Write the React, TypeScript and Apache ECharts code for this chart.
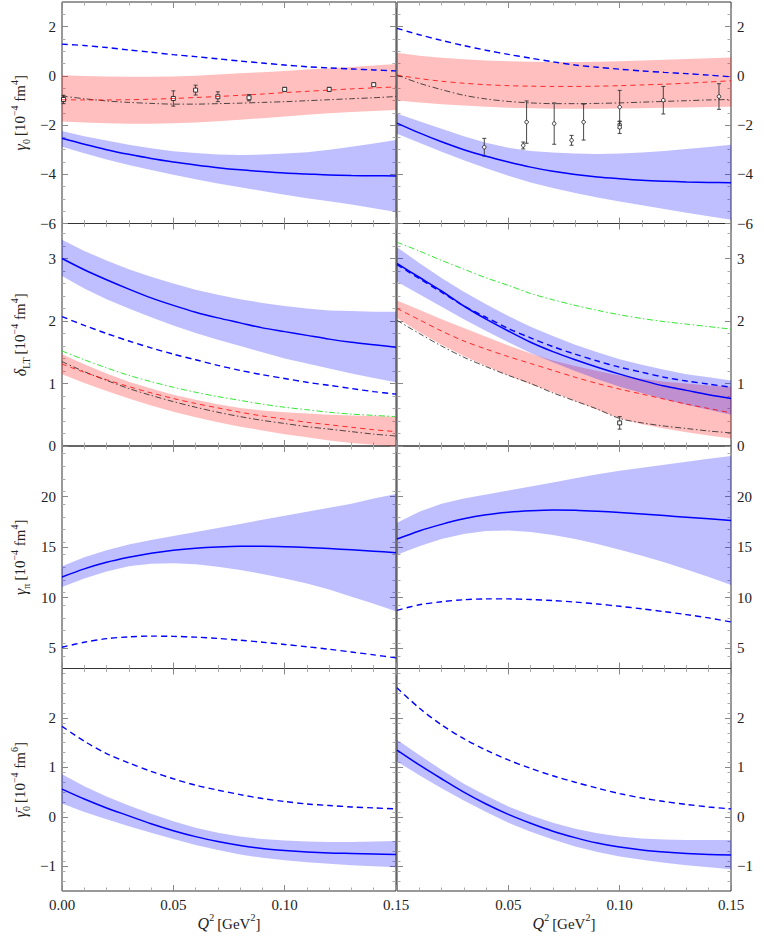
import React, { useEffect, useRef } from "react";
import * as echarts from "echarts";

// ---------------- data ----------------
const Q2 = [0, 0.01, 0.02, 0.03, 0.04, 0.05, 0.06, 0.07, 0.08, 0.09, 0.1, 0.11, 0.12, 0.13, 0.14, 0.15];

// row 1, left: gamma_0
const g0pBlue = [-2.54, -2.78, -3.0, -3.19, -3.36, -3.5, -3.62, -3.73, -3.82, -3.89, -3.95, -3.99, -4.03, -4.05, -4.06, -4.07];
const g0pBlueHi = [-2.24, -2.45, -2.63, -2.8, -2.94, -3.06, -3.14, -3.2, -3.22, -3.2, -3.16, -3.1, -3.0, -2.88, -2.75, -2.61];
const g0pBlueLo = [-2.88, -3.15, -3.4, -3.62, -3.83, -4.02, -4.2, -4.37, -4.53, -4.68, -4.83, -4.97, -5.1, -5.23, -5.38, -5.53];
const g0pBlueDash = [1.29, 1.23, 1.15, 1.05, 0.96, 0.86, 0.78, 0.69, 0.6, 0.52, 0.44, 0.37, 0.32, 0.28, 0.24, 0.2];
const g0pRed = [-0.97, -0.98, -0.98, -0.97, -0.95, -0.92, -0.88, -0.84, -0.79, -0.74, -0.68, -0.63, -0.58, -0.53, -0.49, -0.45];
const g0pRedHi = [0.02, -0.01, -0.03, -0.04, -0.04, -0.03, 0.0, 0.05, 0.1, 0.15, 0.2, 0.26, 0.31, 0.36, 0.42, 0.48];
const g0pRedLo = [-1.86, -1.9, -1.93, -1.95, -1.95, -1.93, -1.9, -1.85, -1.78, -1.72, -1.65, -1.58, -1.52, -1.47, -1.43, -1.39];
const g0pBlack = [-0.82, -0.93, -1.02, -1.08, -1.12, -1.15, -1.15, -1.13, -1.11, -1.08, -1.05, -1.01, -0.97, -0.93, -0.89, -0.84];
const g0pData = [
  [0.0007, -0.96, 0.17], [0.05, -0.92, 0.31], [0.06, -0.58, 0.2], [0.07, -0.85, 0.2],
  [0.084, -0.89, 0.13], [0.1, -0.55, 0.08], [0.12, -0.55, 0.08], [0.14, -0.36, 0.07],
];

// row 1, right
const g0nBlue = [-1.92, -2.32, -2.68, -3.0, -3.27, -3.5, -3.71, -3.88, -4.01, -4.11, -4.18, -4.24, -4.28, -4.31, -4.33, -4.34];
const g0nBlueHi = [-1.53, -1.85, -2.15, -2.45, -2.72, -2.92, -3.05, -3.12, -3.16, -3.18, -3.16, -3.12, -3.05, -2.97, -2.89, -2.8];
const g0nBlueLo = [-2.35, -2.72, -3.08, -3.43, -3.76, -4.06, -4.33, -4.56, -4.76, -4.94, -5.11, -5.26, -5.41, -5.56, -5.71, -5.85];
const g0nBlueDash = [1.93, 1.67, 1.44, 1.23, 1.04, 0.87, 0.72, 0.57, 0.44, 0.35, 0.27, 0.2, 0.14, 0.09, 0.03, -0.04];
const g0nRed = [0.03, -0.11, -0.22, -0.3, -0.36, -0.4, -0.42, -0.43, -0.43, -0.42, -0.4, -0.37, -0.34, -0.3, -0.25, -0.2];
const g0nRedHi = [0.94, 0.82, 0.73, 0.67, 0.62, 0.59, 0.57, 0.56, 0.56, 0.57, 0.59, 0.62, 0.65, 0.68, 0.71, 0.74];
const g0nRedLo = [-1.0, -1.08, -1.15, -1.21, -1.26, -1.3, -1.32, -1.34, -1.34, -1.34, -1.33, -1.32, -1.3, -1.29, -1.27, -1.26];
const g0nBlack = [0.03, -0.3, -0.56, -0.79, -0.94, -1.04, -1.1, -1.13, -1.13, -1.12, -1.1, -1.07, -1.04, -1.01, -0.98, -0.96];
const g0nData = [
  [0.0392, -2.9, 0.36], [0.0567, -2.83, 0.14], [0.0582, -1.88, 0.86], [0.0706, -1.94, 0.84],
  [0.0784, -2.62, 0.2], [0.0838, -1.88, 0.73], [0.1, -1.27, 0.68], [0.1, -2.0, 0.14],
  [0.1, -2.09, 0.25], [0.1196, -0.99, 0.56], [0.1446, -0.84, 0.52],
];

// row 2, left: delta_LT
const dpBlue = [3.0, 2.82, 2.66, 2.51, 2.37, 2.25, 2.14, 2.05, 1.97, 1.89, 1.83, 1.77, 1.71, 1.66, 1.62, 1.58];
const dpBlueHi = [3.3, 3.12, 2.97, 2.83, 2.71, 2.6, 2.5, 2.42, 2.35, 2.29, 2.24, 2.2, 2.17, 2.16, 2.15, 2.15];
const dpBlueLo = [2.72, 2.52, 2.35, 2.2, 2.06, 1.93, 1.81, 1.7, 1.6, 1.5, 1.4, 1.32, 1.24, 1.16, 1.09, 1.02];
const dpBlueDash = [2.07, 1.93, 1.8, 1.68, 1.57, 1.47, 1.38, 1.29, 1.21, 1.14, 1.08, 1.02, 0.97, 0.92, 0.87, 0.83];
const dpGreen = [1.52, 1.38, 1.25, 1.13, 1.03, 0.94, 0.86, 0.79, 0.73, 0.67, 0.62, 0.58, 0.54, 0.51, 0.49, 0.47];
const dpRed = [1.31, 1.18, 1.06, 0.95, 0.85, 0.76, 0.68, 0.61, 0.54, 0.48, 0.43, 0.38, 0.34, 0.3, 0.26, 0.23];
const dpRedHi = [1.47, 1.31, 1.16, 1.03, 0.92, 0.82, 0.74, 0.67, 0.61, 0.57, 0.54, 0.52, 0.5, 0.49, 0.48, 0.47];
const dpRedLo = [1.15, 1.01, 0.88, 0.76, 0.65, 0.55, 0.46, 0.38, 0.31, 0.25, 0.19, 0.14, 0.09, 0.05, 0.02, 0.0];
const dpBlack = [1.35, 1.19, 1.05, 0.92, 0.81, 0.71, 0.62, 0.54, 0.47, 0.41, 0.36, 0.31, 0.27, 0.23, 0.19, 0.16];

// row 2, right
const dnBlue = [2.92, 2.7, 2.48, 2.24, 2.03, 1.84, 1.66, 1.51, 1.38, 1.26, 1.15, 1.05, 0.96, 0.89, 0.82, 0.76];
const dnBlueHi = [3.18, 2.93, 2.69, 2.47, 2.27, 2.08, 1.91, 1.76, 1.62, 1.5, 1.39, 1.3, 1.22, 1.15, 1.1, 1.05];
const dnBlueLo = [2.63, 2.43, 2.23, 2.03, 1.84, 1.66, 1.49, 1.34, 1.2, 1.07, 0.95, 0.85, 0.75, 0.66, 0.58, 0.5];
const dnBlueDash = [2.9, 2.68, 2.46, 2.24, 2.06, 1.88, 1.73, 1.59, 1.47, 1.36, 1.26, 1.18, 1.1, 1.04, 0.99, 0.94];
const dnGreen = [3.26, 3.12, 2.97, 2.83, 2.69, 2.57, 2.44, 2.34, 2.25, 2.17, 2.1, 2.04, 1.99, 1.95, 1.91, 1.87];
const dnRed = [2.2, 2.02, 1.84, 1.68, 1.55, 1.43, 1.32, 1.21, 1.1, 1.0, 0.91, 0.83, 0.75, 0.67, 0.6, 0.53];
const dnRedHi = [2.33, 2.18, 2.03, 1.89, 1.75, 1.61, 1.48, 1.37, 1.28, 1.2, 1.13, 1.08, 1.03, 1.0, 0.97, 0.95];
const dnRedLo = [2.05, 1.82, 1.62, 1.44, 1.28, 1.13, 0.99, 0.86, 0.72, 0.58, 0.44, 0.35, 0.28, 0.22, 0.17, 0.12];
const dnBlack = [2.01, 1.8, 1.6, 1.42, 1.27, 1.13, 1.0, 0.85, 0.72, 0.59, 0.44, 0.37, 0.32, 0.28, 0.24, 0.21];
const dnData = [[0.1, 0.37, 0.1]];

// row 3, left: gamma_pi
const gppBlue = [12.05, 12.85, 13.5, 14.0, 14.4, 14.7, 14.9, 15.02, 15.08, 15.08, 15.04, 14.96, 14.86, 14.74, 14.6, 14.45];
const gppBlueHi = [13.1, 14.0, 14.7, 15.25, 15.7, 16.1, 16.5, 16.9, 17.3, 17.7, 18.1, 18.5, 18.9, 19.3, 19.8, 20.25];
const gppBlueLo = [11.05, 11.9, 12.6, 13.1, 13.35, 13.4, 13.3, 13.05, 12.75, 12.35, 11.9, 11.4, 10.8, 10.1, 9.4, 8.65];
const gppBlueDash = [5.1, 5.6, 5.95, 6.13, 6.2, 6.18, 6.1, 5.97, 5.8, 5.6, 5.38, 5.15, 4.9, 4.63, 4.35, 4.05];

// row 3, right
const gpnBlue = [15.8, 16.6, 17.25, 17.8, 18.2, 18.45, 18.6, 18.68, 18.65, 18.55, 18.42, 18.28, 18.12, 17.96, 17.8, 17.63];
const gpnBlueHi = [17.4, 18.5, 19.3, 19.8, 20.2, 20.6, 21.0, 21.4, 21.8, 22.2, 22.55, 22.85, 23.15, 23.45, 23.75, 24.0];
const gpnBlueLo = [14.25, 15.1, 15.8, 16.3, 16.6, 16.65, 16.5, 16.2, 15.8, 15.3, 14.75, 14.15, 13.5, 12.8, 12.05, 11.25];
const gpnBlueDash = [8.75, 9.3, 9.6, 9.8, 9.88, 9.88, 9.82, 9.72, 9.57, 9.38, 9.15, 8.9, 8.62, 8.33, 8.0, 7.6];

// row 4, left: bar gamma_0
const gbpBlue = [0.56, 0.36, 0.18, 0.02, -0.14, -0.28, -0.4, -0.5, -0.58, -0.64, -0.68, -0.71, -0.73, -0.74, -0.75, -0.76];
const gbpBlueHi = [0.86, 0.62, 0.41, 0.23, 0.06, -0.09, -0.22, -0.32, -0.4, -0.45, -0.48, -0.5, -0.51, -0.51, -0.5, -0.49];
const gbpBlueLo = [0.27, 0.1, -0.05, -0.19, -0.32, -0.45, -0.57, -0.67, -0.76, -0.83, -0.88, -0.92, -0.95, -0.98, -1.0, -1.02];
const gbpBlueDash = [1.83, 1.53, 1.28, 1.09, 0.92, 0.77, 0.64, 0.54, 0.45, 0.37, 0.31, 0.26, 0.23, 0.2, 0.18, 0.16];

// row 4, right
const gbnBlue = [1.35, 1.05, 0.77, 0.5, 0.26, 0.05, -0.13, -0.29, -0.42, -0.53, -0.61, -0.67, -0.71, -0.74, -0.76, -0.77];
const gbnBlueHi = [1.56, 1.25, 0.95, 0.67, 0.43, 0.21, 0.03, -0.12, -0.24, -0.33, -0.4, -0.44, -0.46, -0.47, -0.47, -0.47];
const gbnBlueLo = [1.12, 0.84, 0.58, 0.33, 0.1, -0.12, -0.3, -0.46, -0.6, -0.71, -0.8, -0.87, -0.93, -0.98, -1.02, -1.06];
const gbnBlueDash = [2.61, 2.2, 1.86, 1.58, 1.35, 1.15, 0.98, 0.83, 0.7, 0.58, 0.47, 0.38, 0.31, 0.25, 0.2, 0.16];

// axes
const X_TICK_LABELS = ["0.00", "0.05", "0.10", "0.15"];
const Y_MIN = [-6, 0, 3, -1.5];
const Y_MAX = [3, 3.56, 25, 3];
const Y_MAJOR = [[-6, -4, -2, 0, 2], [0, 1, 2, 3], [5, 10, 15, 20], [-1, 0, 1, 2]];
const Y_MINOR_STEP = [0.5, 0.2, 1.25, 0.2];
const Y_NAMES = [
  "{g|γ}{sb|0} {n|[10}{sp|−4}{n| fm}{sp|4}{n|]}",
  "{g|δ}{sb|LT} {n|[10}{sp|−4}{n| fm}{sp|4}{n|]}",
  "{g|γ}{sb|π} {n|[10}{sp|−4}{n| fm}{sp|4}{n|]}",
  "{g|γ\u0304}{sb|0} {n|[10}{sp|−4}{n| fm}{sp|6}{n|]}",
];
const X_NAME = "{g|Q}{sp|2} {n|[GeV}{sp|2}{n|]}";

// ---------------- layout / style ----------------
const FONT = "Liberation Serif, serif";
const ROW_TOP = [2, 223.5, 446, 668.5];
const ROW_H = [221.5, 222.5, 222.5, 222.5];
const COL_LEFT = [62, 397];
const PANEL_W = 334;
const BLUE = "#0000ff";
const BLUE_BAND = "rgba(0,0,255,0.25)";
const RED_BAND = "rgba(255,0,0,0.25)";

const rich = {
  g: { fontFamily: FONT, fontSize: 16, fontStyle: "italic", lineHeight: 22, color: "#222" },
  n: { fontFamily: FONT, fontSize: 15, lineHeight: 22, color: "#222" },
  sb: { fontFamily: FONT, fontSize: 10, lineHeight: 11, verticalAlign: "bottom", color: "#222" },
  sp: { fontFamily: FONT, fontSize: 10, lineHeight: 11, verticalAlign: "top", color: "#222" },
};

function minorTicks(r: number): number[] {
  const out: number[] = [];
  const step = Y_MINOR_STEP[r];
  const n = Math.round((Y_MAX[r] - Y_MIN[r]) / step);
  for (let k = 0; k <= n; k++) {
    const v = Math.round((Y_MIN[r] + k * step) * 1000) / 1000;
    if (v > Y_MIN[r] && v < Y_MAX[r] && Y_MAJOR[r].indexOf(v) < 0) out.push(v);
  }
  return out;
}

const fmtMinus = (v: number) => String(v).replace("-", "\u2212");

function bandSeries(xi: number, yi: number, lo: number[], hi: number[], color: string) {
  return {
    type: "custom",
    coordinateSystem: "cartesian2d",
    xAxisIndex: xi,
    yAxisIndex: yi,
    silent: true,
    clip: true,
    data: [[Q2[0], lo[0]]],
    renderItem: (_p: any, api: any) => {
      const pts: number[][] = [];
      for (let i = 0; i < Q2.length; i++) pts.push(api.coord([Q2[i], hi[i]]));
      for (let i = Q2.length - 1; i >= 0; i--) pts.push(api.coord([Q2[i], lo[i]]));
      return { type: "polygon", shape: { points: pts }, style: { fill: color, stroke: "none" } };
    },
  };
}

function lineSeries(xi: number, yi: number, ys: number[], color: string, width: number, dash: any) {
  return {
    type: "line",
    xAxisIndex: xi,
    yAxisIndex: yi,
    data: Q2.map((x, i) => [x, ys[i]]),
    symbol: "none",
    smooth: 0.3,
    silent: true,
    lineStyle: { color, width, type: dash },
  };
}

function pointSeries(xi: number, yi: number, pts: number[][], marker: string) {
  return {
    type: "custom",
    coordinateSystem: "cartesian2d",
    xAxisIndex: xi,
    yAxisIndex: yi,
    silent: true,
    data: pts,
    renderItem: (_p: any, api: any) => {
      const x = api.value(0), y = api.value(1), e = api.value(2);
      const c = api.coord([x, y]);
      const t = api.coord([x, y + e]);
      const b = api.coord([x, y - e]);
      const st = { stroke: "#333", lineWidth: 0.9 };
      const mk =
        marker === "square"
          ? { type: "rect", shape: { x: c[0] - 2, y: c[1] - 2, width: 4, height: 4 }, style: { fill: "#fff", stroke: "#222", lineWidth: 0.9 } }
          : { type: "circle", shape: { cx: c[0], cy: c[1], r: 1.8 }, style: { fill: "#fff", stroke: "#222", lineWidth: 0.9 } };
      return {
        type: "group",
        children: [
          { type: "line", shape: { x1: c[0], y1: t[1], x2: c[0], y2: b[1] }, style: st },
          { type: "line", shape: { x1: c[0] - 2, y1: t[1], x2: c[0] + 2, y2: t[1] }, style: st },
          { type: "line", shape: { x1: c[0] - 2, y1: b[1], x2: c[0] + 2, y2: b[1] }, style: st },
          mk,
        ],
      };
    },
  };
}

const DASH_BLUE = [6, 4];
const DASH_RED = [5, 4];
const DASH_DOT = [6, 2.5, 1.5, 2.5];

const PANELS: any[] = [
  { blue: g0pBlue, hi: g0pBlueHi, lo: g0pBlueLo, dash: g0pBlueDash, red: g0pRed, redHi: g0pRedHi, redLo: g0pRedLo, black: g0pBlack, points: g0pData, marker: "square" },
  { blue: g0nBlue, hi: g0nBlueHi, lo: g0nBlueLo, dash: g0nBlueDash, red: g0nRed, redHi: g0nRedHi, redLo: g0nRedLo, black: g0nBlack, points: g0nData, marker: "circle" },
  { blue: dpBlue, hi: dpBlueHi, lo: dpBlueLo, dash: dpBlueDash, red: dpRed, redHi: dpRedHi, redLo: dpRedLo, black: dpBlack, green: dpGreen },
  { blue: dnBlue, hi: dnBlueHi, lo: dnBlueLo, dash: dnBlueDash, red: dnRed, redHi: dnRedHi, redLo: dnRedLo, black: dnBlack, green: dnGreen, points: dnData, marker: "square" },
  { blue: gppBlue, hi: gppBlueHi, lo: gppBlueLo, dash: gppBlueDash },
  { blue: gpnBlue, hi: gpnBlueHi, lo: gpnBlueLo, dash: gpnBlueDash },
  { blue: gbpBlue, hi: gbpBlueHi, lo: gbpBlueLo, dash: gbpBlueDash },
  { blue: gbnBlue, hi: gbnBlueHi, lo: gbnBlueLo, dash: gbnBlueDash },
];

function buildOption() {
  const grid: any[] = [];
  const xAxis: any[] = [];
  const yAxis: any[] = [];
  const series: any[] = [];
  const labelStyle = { fontFamily: FONT, fontSize: 15, color: "#222" };

  for (let r = 0; r < 4; r++) {
    for (let c = 0; c < 2; c++) {
      const g = r * 2 + c;
      grid.push({
        left: COL_LEFT[c], top: ROW_TOP[r], width: PANEL_W, height: ROW_H[r],
        show: true, borderColor: "#333", borderWidth: 1, backgroundColor: "transparent",
      });
      const bottomRow = r === 3;
      for (const pos of ["bottom", "top"]) {
        const isBottom = pos === "bottom";
        xAxis.push({
          type: "value", gridIndex: g, position: pos, min: 0, max: 0.15, interval: 0.05,
          axisLine: { show: false, onZero: false }, splitLine: { show: false },
          axisTick: { show: true, inside: true, length: 6, lineStyle: { color: "#888", width: 1 } },
          minorTick: { show: true, splitNumber: 5, length: 3.5, lineStyle: { color: "#aaa", width: 1 } },
          axisLabel: {
            show: isBottom && bottomRow, margin: 6, ...labelStyle,
            formatter: (v: number) => (c === 1 && Math.abs(v) < 1e-9 ? "" : X_TICK_LABELS[Math.round(v / 0.05)]),
          },
          name: isBottom && bottomRow ? X_NAME : "",
          nameLocation: "middle", nameGap: 20,
          nameTextStyle: { rich, fontFamily: FONT },
        });
      }
      const minors = minorTicks(r);
      for (const pos of ["left", "right"]) {
        const showLab = (pos === "left" && c === 0) || (pos === "right" && c === 1);
        yAxis.push({
          type: "value", gridIndex: g, position: pos, min: Y_MIN[r], max: Y_MAX[r], offset: 0,
          axisLine: { show: false, onZero: false }, splitLine: { show: false },
          axisTick: { show: true, inside: true, length: 6, customValues: Y_MAJOR[r], lineStyle: { color: "#888", width: 1 } },
          axisLabel: { show: showLab, customValues: Y_MAJOR[r], margin: 6, ...labelStyle, formatter: fmtMinus },
          name: pos === "left" && c === 0 ? Y_NAMES[r] : "",
          nameLocation: "middle", nameRotate: 90, nameGap: 31,
          nameTextStyle: { rich, fontFamily: FONT },
        });
        yAxis.push({
          type: "value", gridIndex: g, position: pos, min: Y_MIN[r], max: Y_MAX[r], offset: 0,
          axisLine: { show: false, onZero: false }, splitLine: { show: false },
          axisTick: { show: true, inside: true, length: 3.5, customValues: minors, lineStyle: { color: "#aaa", width: 1 } },
          axisLabel: { show: false },
        });
      }
      const xi = g * 2;
      const yi = g * 4;
      const p = PANELS[g];
      if (p.redHi) series.push(bandSeries(xi, yi, p.redLo, p.redHi, RED_BAND));
      series.push(bandSeries(xi, yi, p.lo, p.hi, BLUE_BAND));
      if (p.green) series.push(lineSeries(xi, yi, p.green, "#00e000", 0.8, DASH_DOT));
      if (p.black) series.push(lineSeries(xi, yi, p.black, "#222", 0.8, DASH_DOT));
      if (p.red) series.push(lineSeries(xi, yi, p.red, "#ff0000", 0.8, DASH_RED));
      series.push(lineSeries(xi, yi, p.dash, BLUE, 1.4, DASH_BLUE));
      series.push(lineSeries(xi, yi, p.blue, BLUE, 1.5, "solid"));
      if (p.points) series.push(pointSeries(xi, yi, p.points, p.marker));
    }
  }

  return {
    animation: false,
    backgroundColor: "#fff",
    textStyle: { fontFamily: FONT },
    grid, xAxis, yAxis, series,
  };
}

export default function App() {
  const ref = useRef<HTMLDivElement>(null);
  useEffect(() => {
    if (!ref.current) return;
    const chart = echarts.init(ref.current, null, { renderer: "svg" });
    chart.setOption(buildOption() as any);
    return () => chart.dispose();
  }, []);
  return <div ref={ref} style={{ position: "absolute", left: 0, top: 0, width: 764, height: 943, background: "#fff" }} />;
}
